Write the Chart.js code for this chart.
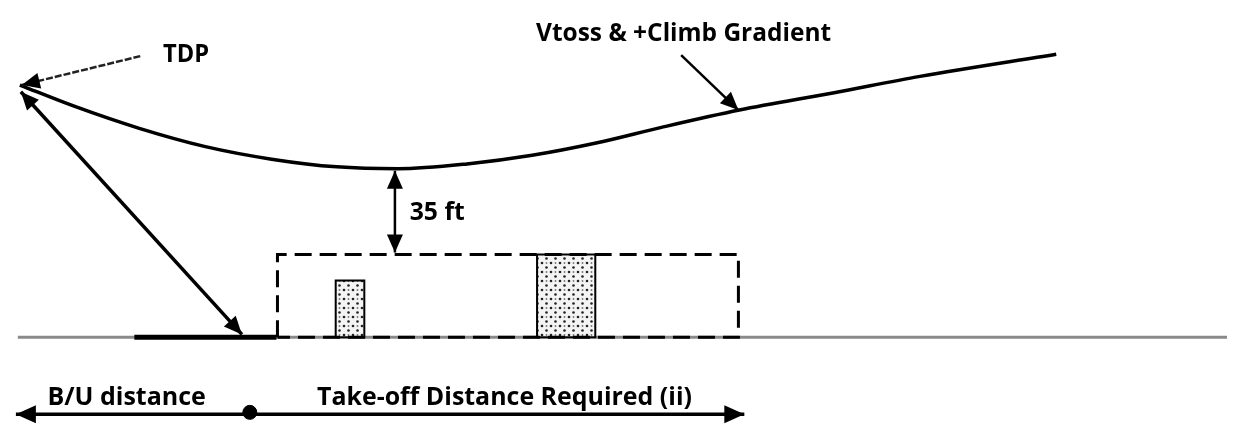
<!DOCTYPE html>
<html>
<head>
<meta charset="utf-8">
<script src="https://cdn.jsdelivr.net/npm/chart.js@4/dist/chart.umd.min.js"></script>
<style>
  body { margin: 0; background: #fff; }
  #wrap { width: 1235px; height: 430px; }
</style>
</head>
<body>
<div id="wrap"><canvas id="myChart" width="1235" height="430"></canvas></div>
<script>
// flight path (distance along runway, screen height)
const flightPath = [
  {x: 12, y: 80}, {x: 67, y: 102}, {x: 133, y: 125}, {x: 200, y: 144},
  {x: 267, y: 157}, {x: 333, y: 165}, {x: 395, y: 167}, {x: 465, y: 162},
  {x: 531, y: 153}, {x: 597, y: 140}, {x: 662, y: 124}, {x: 741, y: 106},
  {x: 837, y: 88}, {x: 924, y: 71}, {x: 1062, y: 48}
];
const ground = [{x: 10, y: 342}, {x: 1235, y: 342}];
const runway = [{x: 128, y: 342}, {x: 272, y: 342}];
const obstacleBox = [
  {x: 273, y: 342}, {x: 273, y: 256}, {x: 740, y: 256}, {x: 740, y: 342}, {x: 273, y: 342}
];
const smallObstacle = [
  {x: 332, y: 342}, {x: 332, y: 283}, {x: 361, y: 283}, {x: 361, y: 342}, {x: 332, y: 342}
];
const bigObstacle = [
  {x: 536, y: 342}, {x: 536, y: 256}, {x: 595, y: 256}, {x: 595, y: 342}, {x: 536, y: 342}
];
const distanceLine = [{x: 8, y: 422}, {x: 746, y: 422}];
const splitPoint = [{x: 245, y: 420}];

// arrows: from, to
const buArrow = [{x: 237, y: 339}, {x: 13, y: 87}];
const gapArrow = [{x: 392, y: 169}, {x: 392, y: 254}];
const tdpArrow = [{x: 134, y: 50}, {x: 14, y: 80}];
const climbArrow = [{x: 682, y: 49}, {x: 740, y: 106}];

const labelTexts = ['TDP', 'Vtoss & +Climb Gradient', '35 ft', 'B/U distance', 'Take-off Distance Required (ii)'];
const labelSpots = [
  {x: 157, y: 56, w: 46}, {x: 535, y: 34, w: 295}, {x: 407, y: 220, w: 55},
  {x: 40, y: 412, w: 177}, {x: 313, y: 412, w: 375}
];

function stipple() {
  const c = document.createElement('canvas');
  c.width = 9; c.height = 9;
  const g = c.getContext('2d');
  g.fillStyle = '#f4f4f4';
  g.fillRect(0, 0, 9, 9);
  g.fillStyle = '#222';
  g.beginPath(); g.arc(2, 2, 1.3, 0, Math.PI * 2); g.fill();
  g.beginPath(); g.arc(6.5, 6.5, 1.3, 0, Math.PI * 2); g.fill();
  g.fillStyle = '#777';
  g.beginPath(); g.arc(6.5, 2, 0.9, 0, Math.PI * 2); g.fill();
  return g.createPattern(c, 'repeat');
}
const dots = stipple();

function line(data, color, width, extra) {
  return Object.assign({
    data: data, showLine: true, borderColor: color, borderWidth: width,
    pointRadius: 0, fill: false, tension: 0
  }, extra || {});
}

const arrowList = [
  {pts: buArrow, both: true},
  {pts: gapArrow, both: true},
  {pts: tdpArrow, both: false},
  {pts: climbArrow, both: false}
];

function head(ctx, fx, fy, tx, ty, len, half) {
  const a = Math.atan2(ty - fy, tx - fx);
  ctx.beginPath();
  ctx.moveTo(tx, ty);
  ctx.lineTo(tx - len * Math.cos(a) + half * Math.sin(a), ty - len * Math.sin(a) - half * Math.cos(a));
  ctx.lineTo(tx - len * Math.cos(a) - half * Math.sin(a), ty - len * Math.sin(a) + half * Math.cos(a));
  ctx.closePath();
  ctx.fill();
}

const extrasPlugin = {
  id: 'extras',
  afterDatasetsDraw(chart) {
    const ctx = chart.ctx;
    const xs = chart.scales.x, ys = chart.scales.y;
    const px = p => [xs.getPixelForValue(p.x), ys.getPixelForValue(p.y)];
    ctx.save();
    ctx.fillStyle = '#000';
    arrowList.forEach(ar => {
      const [ax, ay] = px(ar.pts[0]);
      const [bx, by] = px(ar.pts[1]);
      head(ctx, ax, ay, bx, by, 18, 8);
      if (ar.both) head(ctx, bx, by, ax, ay, 18, 8);
    });
    // arrows on the distance line
    const [lx, ly] = px(distanceLine[0]);
    const [rx, ry] = px(distanceLine[1]);
    head(ctx, rx, ly, lx, ly, 20, 9);
    head(ctx, lx, ry, rx, ry, 20, 9);

    ctx.font = 'bold 25px "Open Sans", "Noto Sans", sans-serif';
    ctx.textBaseline = 'alphabetic';
    labelTexts.forEach((t, i) => {
      const s = labelSpots[i];
      const [tx, ty] = px(s);
      ctx.fillText(t, tx, ty, s.w);
    });
    ctx.restore();
  }
};

// listed bottom layer first
const layers = [
  line(ground, '#8a8a8a', 3),
  line(runway, '#000', 5),
  line(smallObstacle, '#000', 2, {fill: 'shape', backgroundColor: dots}),
  line(bigObstacle, '#000', 2, {fill: 'shape', backgroundColor: dots}),
  line(obstacleBox, '#000', 3, {borderDash: [17, 8]}),
  line(flightPath, '#000', 3.5, {cubicInterpolationMode: 'monotone'}),
  line(buArrow, '#000', 3.5),
  line(gapArrow, '#000', 2.5),
  line(tdpArrow, '#222', 2.5, {borderDash: [7, 2]}),
  line(climbArrow, '#000', 2.5),
  line(distanceLine, '#000', 3.5),
  {data: splitPoint, pointRadius: 7, backgroundColor: '#000', borderColor: '#000', showLine: false}
];
layers.forEach((d, i) => { d.order = layers.length - i; });

new Chart(document.getElementById('myChart').getContext('2d'), {
  type: 'scatter',
  data: {datasets: layers},
  options: {
    responsive: false,
    animation: false,
    devicePixelRatio: 1,
    layout: {padding: 0},
    plugins: {legend: {display: false}, tooltip: {enabled: false}},
    scales: {
      x: {type: 'linear', display: false, min: 0, max: 1235},
      y: {type: 'linear', display: false, min: 0, max: 430, reverse: true}
    }
  },
  plugins: [extrasPlugin]
});
</script>
</body>
</html>
